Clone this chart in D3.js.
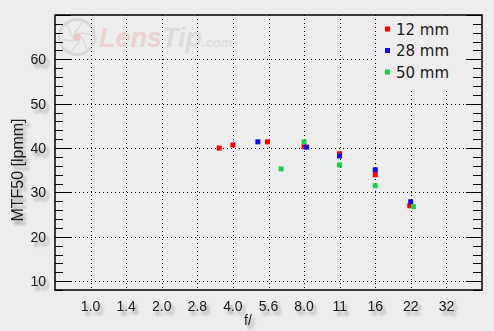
<!DOCTYPE html>
<html>
<head>
<meta charset="utf-8">
<script src="https://cdn.jsdelivr.net/npm/d3@7"></script>
<style>
  html, body { margin: 0; padding: 0; background: #ededed; }
  #chart { width: 494px; height: 331px; }
</style>
</head>
<body>
<div id="chart"></div>
<script>
// f-stop tick labels (one per full stop)
const stopLabels = ['1.0', '1.4', '2.0', '2.8', '4.0', '5.6', '8.0', '11', '16', '22', '32'];
const yTicks = [10, 20, 30, 40, 50, 60];

// aperture (f-number) and MTF50 values
const red12Aperture = [3.5, 4.0, 5.6, 8.0, 11.3, 16, 22.4];
const red12Values = [40.0, 40.7, 41.4, 40.3, 38.7, 34.0, 27.0];
const blue28Aperture = [5.1, 8.2, 11.3, 16, 22.6];
const blue28Values = [41.4, 40.2, 38.2, 35.1, 27.9];
const green50Aperture = [6.4, 8.0, 11.3, 16, 23.2];
const green50Values = [35.3, 41.4, 36.2, 31.5, 26.8];

const seriesNames = ['12 mm', '28 mm', '50 mm'];
const seriesColors = ['#ff0000', '#1010e0', '#22cc44'];

const width = 494, height = 331;
const margin = { left: 55, right: 12, top: 15, bottom: 41 };

const svg = d3.select('#chart').append('svg')
    .attr('width', width)
    .attr('height', height);

// soft shadow for axis labels
const defs = svg.append('defs');
const shadow = defs.append('filter').attr('id', 'shadow')
    .attr('x', '-50%').attr('y', '-50%').attr('width', '200%').attr('height', '200%');
shadow.append('feGaussianBlur').attr('in', 'SourceAlpha').attr('stdDeviation', 1.8).attr('result', 'b');
shadow.append('feOffset').attr('in', 'b').attr('dx', 3).attr('dy', 4).attr('result', 'o');
shadow.append('feComponentTransfer').attr('in', 'o').attr('result', 's')
    .append('feFuncA').attr('type', 'linear').attr('slope', 0.35);
const merge = shadow.append('feMerge');
merge.append('feMergeNode').attr('in', 's');
merge.append('feMergeNode').attr('in', 'SourceGraphic');

svg.append('rect').attr('width', width).attr('height', height).attr('fill', '#ededed');

// x: log2 of f-number, one full stop = half a log2 unit
const x = d3.scaleLog().base(2)
    .domain([Math.pow(2, -0.5), Math.pow(2, 5.5)])
    .range([margin.left, width - margin.right]);
const stopValue = i => Math.pow(2, i / 2);

const y = d3.scaleLinear()
    .domain([8, 70])
    .range([height - margin.bottom, margin.top]);

const x0 = margin.left, x1 = width - margin.right;
const y0 = height - margin.bottom, y1 = margin.top;

// watermark
const wm = svg.append('g');
wm.append('circle').attr('cx', 77).attr('cy', 37).attr('r', 17.5)
    .attr('fill', 'none').attr('stroke', '#d9d9d9').attr('stroke-width', 3);
for (let k = 0; k < 6; k++) {
    const a = k * Math.PI / 3;
    wm.append('line')
        .attr('x1', 77 + Math.cos(a) * 5).attr('y1', 37 + Math.sin(a) * 5)
        .attr('x2', 77 + Math.cos(a + 0.9) * 16).attr('y2', 37 + Math.sin(a + 0.9) * 16)
        .attr('stroke', '#dcdcdc').attr('stroke-width', 1.5);
}
wm.append('circle').attr('cx', 77).attr('cy', 37).attr('r', 4).attr('fill', '#eacaca');
const wmText = wm.append('text').attr('x', 99).attr('y', 47)
    .style('font-family', 'Liberation Sans, Arial, sans-serif')
    .style('font-weight', 'bold').style('font-style', 'italic')
    .style('font-size', '27px');
wmText.append('tspan').attr('fill', '#ebd3d0').text('Lens');
wmText.append('tspan').attr('fill', '#dcdcdc').text('Tip');
wmText.append('tspan').attr('fill', '#dedede').style('font-size', '13px').text('.com');

// grid
const grid = svg.append('g')
    .attr('stroke', '#000')
    .attr('stroke-width', 1)
    .attr('stroke-dasharray', '1,3');

grid.selectAll('line.h')
    .data(yTicks)
    .join('line')
    .attr('class', 'h')
    .attr('x1', x0).attr('x2', x1)
    .attr('y1', d => Math.round(y(d)) + 0.5)
    .attr('y2', d => Math.round(y(d)) + 0.5);

grid.selectAll('line.v')
    .data(stopLabels.map((s, i) => stopValue(i)))
    .join('line')
    .attr('class', 'v')
    .attr('y1', y1).attr('y2', y0)
    .attr('x1', d => Math.round(x(d)) + 0.5)
    .attr('x2', d => Math.round(x(d)) + 0.5);

// legend background hides the grid behind it
svg.append('rect')
    .attr('x', 377).attr('y', y1 + 1)
    .attr('width', 89).attr('height', 72)
    .attr('fill', '#ededed');

// tick marks on both vertical sides
const minor = d3.range(8, 71, 2);
const ticks = svg.append('g').attr('stroke', '#000').attr('stroke-width', 1);
ticks.selectAll('line.l')
    .data(minor)
    .join('line')
    .attr('x1', x0)
    .attr('x2', d => x0 + (d % 10 === 0 ? 16 : 8))
    .attr('y1', d => Math.round(y(d)) + 0.5)
    .attr('y2', d => Math.round(y(d)) + 0.5);
ticks.selectAll('line.r')
    .data(minor)
    .join('line')
    .attr('x1', x1)
    .attr('x2', d => x1 - (d % 10 === 0 ? 16 : 9))
    .attr('y1', d => Math.round(y(d)) + 0.5)
    .attr('y2', d => Math.round(y(d)) + 0.5);

// frame
svg.append('rect')
    .attr('x', x0).attr('y', y1)
    .attr('width', x1 - x0).attr('height', y0 - y1)
    .attr('fill', 'none').attr('stroke', '#000').attr('stroke-width', 1.5);

// axis labels
const labelFont = 'Liberation Sans, Arial, sans-serif';
const labels = svg.append('g').attr('filter', 'url(#shadow)')
    .style('font-family', labelFont).style('font-size', '14px').attr('fill', '#1a1a1a');

labels.selectAll('text.y')
    .data(yTicks)
    .join('text')
    .attr('x', 46)
    .attr('y', d => y(d) + 5)
    .attr('text-anchor', 'end')
    .text(d => d);

labels.selectAll('text.x')
    .data(stopLabels)
    .join('text')
    .attr('x', (d, i) => x(stopValue(i)))
    .attr('y', 311)
    .attr('text-anchor', 'middle')
    .text(d => d);

labels.append('text')
    .attr('x', 248).attr('y', 325)
    .attr('text-anchor', 'middle')
    .text('f/');

labels.append('text')
    .attr('transform', 'translate(23,170) rotate(-90)')
    .attr('text-anchor', 'middle')
    .style('font-size', '16px')
    .text('MTF50 [lpmm]');

// data points
const series = [
    { aperture: red12Aperture, values: red12Values },
    { aperture: blue28Aperture, values: blue28Values },
    { aperture: green50Aperture, values: green50Values }
];

series.forEach((s, k) => {
    svg.append('g')
        .selectAll('rect')
        .data(s.values.map((v, i) => ({ f: s.aperture[i], v })))
        .join('rect')
        .attr('x', d => x(d.f) - 2.5)
        .attr('y', d => y(d.v) - 2.5)
        .attr('width', 5).attr('height', 5)
        .attr('fill', seriesColors[k]);
});

// legend
const legend = svg.append('g');
seriesNames.forEach((name, k) => {
    const ly = 29 + k * 21.5;
    legend.append('rect')
        .attr('x', 385).attr('y', ly - 2.5)
        .attr('width', 5).attr('height', 5)
        .attr('fill', seriesColors[k]);
    legend.append('text')
        .attr('x', 396).attr('y', ly + 5.5)
        .style('font-family', 'DejaVu Sans, Verdana, sans-serif')
        .style('font-size', '15px')
        .attr('fill', '#1a1a1a')
        .text(name);
});
</script>
</body>
</html>
